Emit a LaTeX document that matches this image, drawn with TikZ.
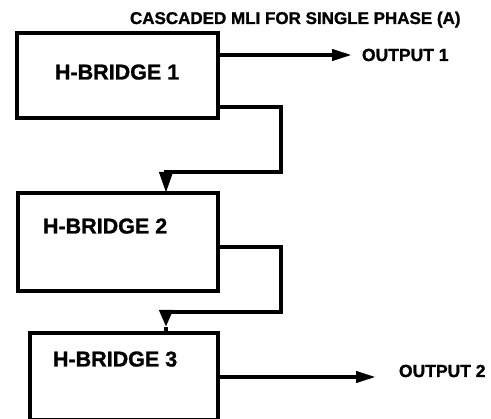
\documentclass[tikz,border=0pt]{standalone}
\usepackage{fontspec}
\setmainfont{Liberation Sans}
\newfontfamily\heavyfont[FakeBold=1.2]{Liberation Sans Bold}
\usetikzlibrary{arrows.meta}
\newcommand\hbsize{\heavyfont\fontsize{21.5pt}{22pt}\selectfont}
\newcommand\smsize{\heavyfont\fontsize{17.5pt}{18pt}\selectfont}
\newcommand\tisize{\heavyfont\fontsize{17pt}{18pt}\selectfont}
\begin{document}
\begin{tikzpicture}[x=1pt,y=-1pt,
  box/.style={draw=black, line width=4pt, rectangle, inner sep=0pt, outer sep=0pt},
  lbl/.style={inner sep=0pt, outer sep=0pt, anchor=base west, font=\hbsize},
  small/.style={inner sep=0pt, outer sep=0pt, anchor=base west, font=\smsize},
  ttl/.style={inner sep=0pt, outer sep=0pt, anchor=base west, font=\tisize},
  wire/.style={line width=4pt, line join=miter},
  arr/.style={wire, -{Triangle[length=20pt,width=11pt]}},
  arrd/.style={wire, -{Triangle[length=21pt,width=13pt]}},
  arrs/.style={wire, -{Triangle[length=17pt,width=13pt]}}]
\useasboundingbox (0,0) rectangle (491,419);
% boxes
\node[box, minimum width=201pt, minimum height=85pt] (b1) at (117.5,75.5) {};
\node[box, minimum width=200pt, minimum height=98pt] (b2) at (118,242) {};
\node[box, minimum width=188pt, minimum height=87pt] (b3) at (124,376.5) {};
% labels
\node[ttl] (title) at (130,24) {CASCADED MLI FOR SINGLE PHASE (A)};
\node[lbl] (t1) at (55,79.5) {H-BRIDGE 1};
\node[lbl] (t2) at (43,233.5) {H-BRIDGE 2};
\node[lbl] (t3) at (53,366.5) {H-BRIDGE 3};
\node[small] (o1) at (362,61) {OUTPUT 1};
\node[small] (o2) at (399,377) {OUTPUT 2};
% output arrows
\coordinate (o1tip) at (352,55);
\coordinate (o2tip) at (376,377);
\draw[arr] (b1.east |- o1tip) -- (o1tip);
\draw[arr] (b3.east |- o2tip) -- (o2tip);
% cascade connectors
\coordinate (c1) at (281,107);
\coordinate (c2) at (166,172);
\draw[arrd] (b1.east |- c1) -- (c1) |- (c2) -- (b2.north -| c2);
\coordinate (c3) at (281,247);
\coordinate (c4) at (166,312);
\coordinate (c5) at (166,327);
\draw[arrs] (b2.east |- c3) -- (c3) |- (c4) -- (c5);
\draw[wire] (c5) -- (b3.north -| c5);
\end{tikzpicture}
\end{document}
